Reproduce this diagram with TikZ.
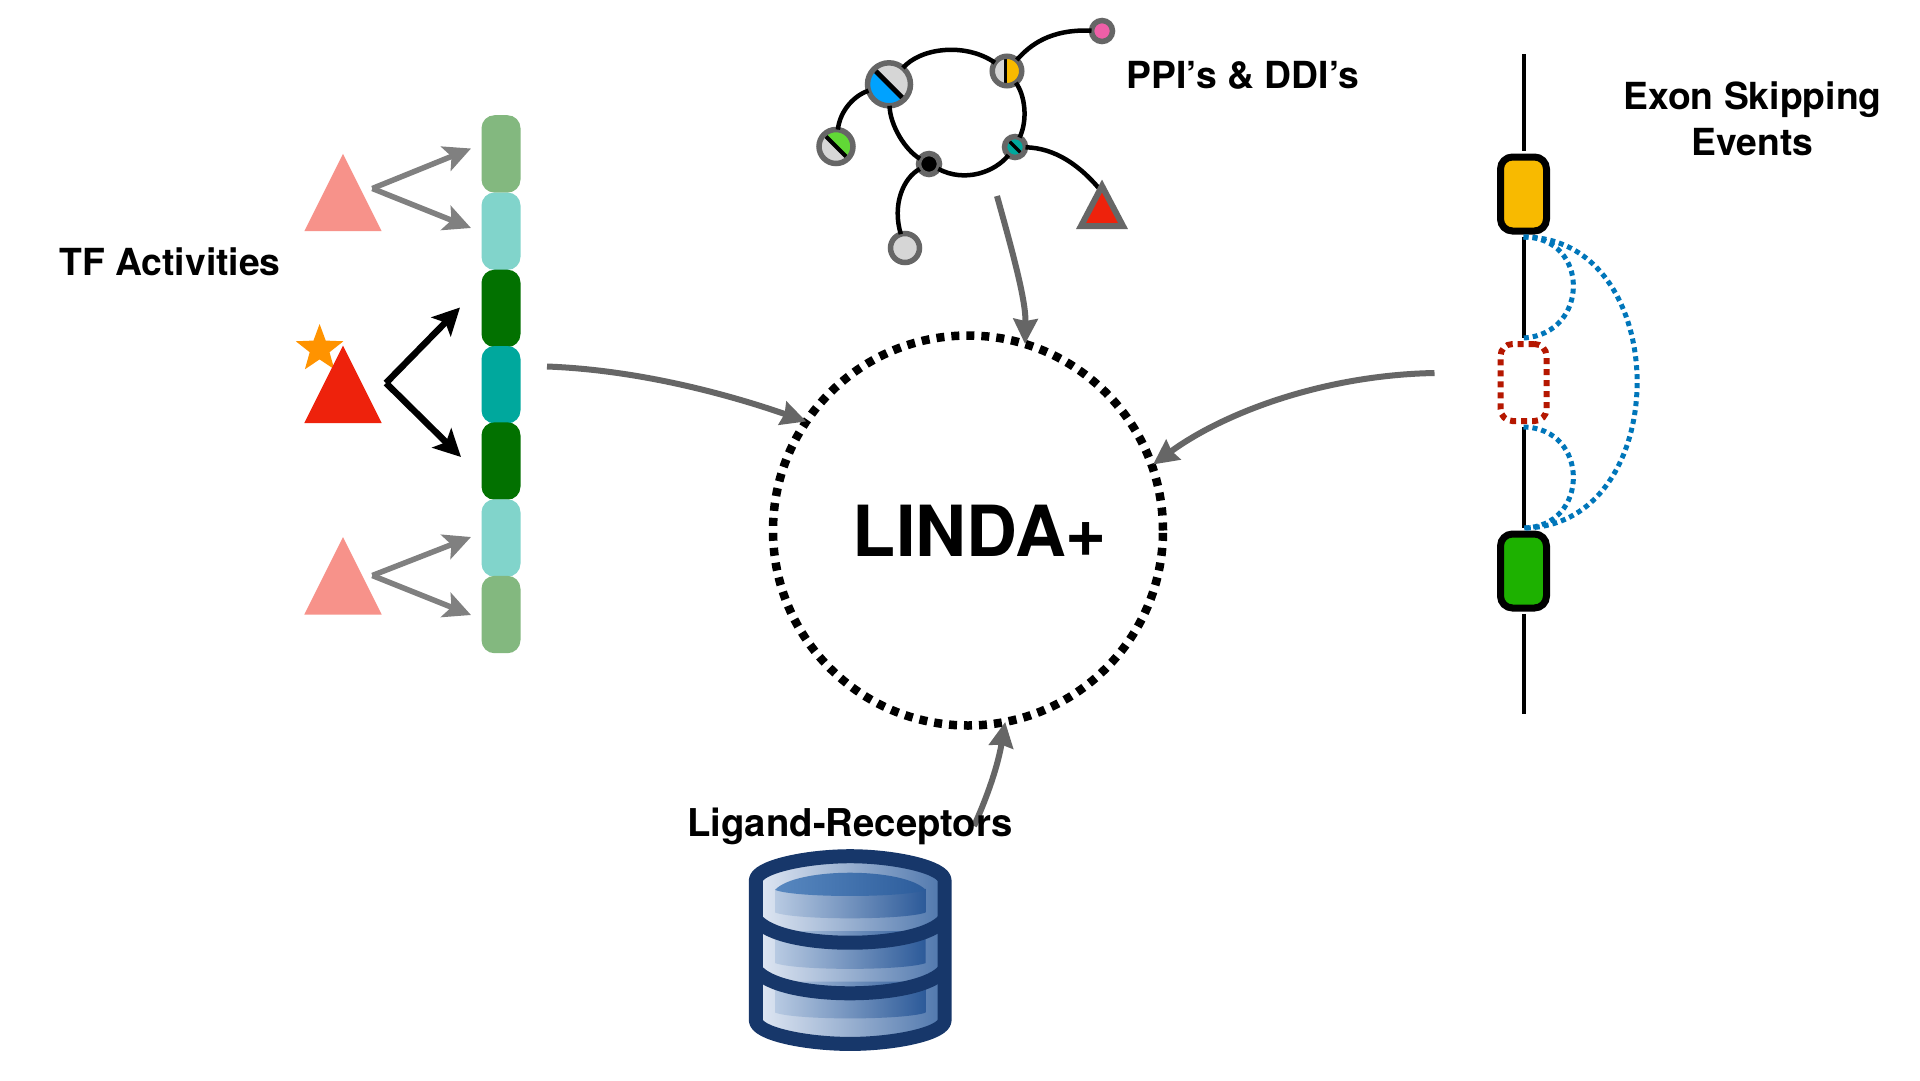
\documentclass[tikz,border=0pt]{standalone}
\usepackage{fontspec}
\setmainfont{TeX Gyre Heros}
\usetikzlibrary{arrows.meta,shapes.geometric}
\definecolor{lgreen}{HTML}{83B87F}
\definecolor{lteal}{HTML}{81D4CB}
\definecolor{dgreen}{HTML}{027100}
\definecolor{mteal}{HTML}{00A89D}
\definecolor{salmon}{HTML}{F7928A}
\definecolor{tfred}{HTML}{EE220C}
\definecolor{starorange}{HTML}{FF9300}
\definecolor{pgrey}{HTML}{666666}
\definecolor{cgrey}{HTML}{D6D6D6}
\definecolor{arrowgrey}{HTML}{808080}
\definecolor{dbnavy}{HTML}{17376A}
\definecolor{dotblue}{HTML}{0076BA}
\definecolor{dotred}{HTML}{B51700}
\definecolor{cblue}{HTML}{00A2FF}
\definecolor{cyellow}{HTML}{F8BA00}
\definecolor{cpink}{HTML}{EF5FA7}
\definecolor{clime}{HTML}{61D836}
\definecolor{cgreen}{HTML}{1DB100}
\definecolor{dbl}{HTML}{E2E9F4}
\definecolor{dbr}{HTML}{4E76AC}
\definecolor{dbil}{HTML}{B8CAE2}
\definecolor{dbir}{HTML}{2C5A99}
\definecolor{dbtl}{HTML}{5888C0}
\definecolor{dbtr}{HTML}{2C5C9B}
\tikzset{
  x=1pt,y=-1pt,
  label text/.style={font=\fontsize{37.3}{46}\selectfont\bfseries,align=center,inner sep=0,outer sep=0},
  barseg/.style={rectangle,rounded corners=13pt,minimum width=39pt,minimum height=77.4pt,inner sep=0,outer sep=0},
  greyarrow/.style={draw=arrowgrey,line width=5.5pt,-{Stealth[length=27pt,width=26pt,inset=6pt]}},
  blackarrow/.style={draw=black,line width=6.5pt,-{Stealth[length=27pt,width=27pt,inset=6pt]}},
  mainarrow/.style={draw=pgrey,line width=6pt,-{Stealth[length=25pt,width=24pt,inset=2pt]}},
  ppinode/.style={circle,draw=pgrey,line width=5.5pt,inner sep=0,outer sep=0},
  ppilink/.style={draw=black,line width=4.5pt},
  exonbox/.style={rectangle,rounded corners=12pt,minimum width=46pt,minimum height=74pt,inner sep=0,outer sep=6pt,draw=black,line width=7pt},
  exonline/.style={draw=black,line width=4pt},
  dotarc/.style={draw=dotblue,line width=5pt,dash pattern=on 5pt off 4pt},
  dbinner/.style={left color=dbil,right color=dbir},
}
\begin{document}
\begin{tikzpicture}
\useasboundingbox (0,0) rectangle (1920,1080);
\fill[white] (0,0) rectangle (1920,1080);

% ---- TF bars
\node[barseg,fill=lgreen] (b1) at (501,153.9) {};
\node[barseg,fill=lteal] (b2) at (501,231.2) {};
\node[barseg,fill=dgreen] (b3) at (501,308.4) {};
\node[barseg,fill=mteal] (b4) at (501,384.7) {};
\node[barseg,fill=dgreen] (b5) at (501,461) {};
\node[barseg,fill=lteal] (b6) at (501,538) {};
\node[barseg,fill=lgreen] (b7) at (501,614.5) {};

% ---- TF triangles
\fill[salmon] (343,153.9) -- (381.7,231.2) -- (304.3,231.2) -- cycle;
\node[star,star points=5,star point ratio=2.4,fill=starorange,minimum size=50pt,inner sep=0,outer sep=0] (st) at (319.6,349) {};
\fill[tfred] (343,345.5) -- (381.7,423) -- (304.3,423) -- cycle;
\fill[salmon] (343,537) -- (381.7,614.5) -- (304.3,614.5) -- cycle;

% ---- TF arrows
\coordinate (g1) at (372.3,188.5);
\coordinate (g1a) at (471,148.5);
\coordinate (g1b) at (471,228);
\coordinate (g2) at (372.3,575.5);
\coordinate (g2a) at (471,537);
\coordinate (g2b) at (471,615);
\coordinate (k) at (386,383);
\coordinate (ka) at (460,307.5);
\coordinate (kb) at (461,457);
\draw[greyarrow] (g1) -- (g1a);
\draw[greyarrow] (g1) -- (g1b);
\draw[greyarrow] (g2) -- (g2a);
\draw[greyarrow] (g2) -- (g2b);
\draw[blackarrow] (k) -- (ka);
\draw[blackarrow] (k) -- (kb);

% ---- Central circle
\node[circle,draw=black,line width=8.5pt,dash pattern=on 8pt off 7pt,minimum size=390pt,inner sep=0,outer sep=0] (main) at (968,530.5) {};
\node[inner sep=0,outer sep=0,font=\fontsize{70.5}{70}\selectfont\bfseries] (linda) at (980,530.5) {LINDA+};

% ---- PPI network
\coordinate (ppistart) at (997,196);
\draw[mainarrow] (ppistart) .. controls (1012,250) and (1026,300) .. (main.73);

\node[ppinode,minimum size=43pt,fill=cgrey,path picture={
  \fill[cblue] (path picture bounding box.north west) -- (path picture bounding box.south west) -- (path picture bounding box.south east) -- cycle;
  \draw[black,line width=5pt] (path picture bounding box.north west) -- (path picture bounding box.south east);}] (big) at (889,84.3) {};
\node[ppinode,minimum size=29.5pt,fill=cgrey,path picture={
  \fill[cyellow] (path picture bounding box.north) -- (path picture bounding box.north east) -- (path picture bounding box.south east) -- (path picture bounding box.south) -- cycle;
  \draw[black,line width=3.5pt] ([xshift=-1.5pt]path picture bounding box.north) -- ([xshift=-1.5pt]path picture bounding box.south);}] (yel) at (1007,71) {};
\node[ppinode,minimum size=21pt,fill=cpink] (pink) at (1102,31) {};
\node[ppinode,minimum size=34pt,fill=cgrey,path picture={
  \fill[clime] (path picture bounding box.north west) -- (path picture bounding box.north east) -- (path picture bounding box.south east) -- cycle;
  \draw[black,line width=4pt] (path picture bounding box.north west) -- (path picture bounding box.south east);}] (grn) at (836,146.5) {};
\node[ppinode,minimum size=21pt,fill=black] (blk) at (929,164) {};
\node[ppinode,minimum size=21pt,fill=mteal,path picture={
  \draw[black,line width=3.5pt] (path picture bounding box.north west) -- (path picture bounding box.south east);}] (tea) at (1015,147) {};
\node[ppinode,minimum size=29pt,fill=cgrey] (gry) at (905,248) {};
\coordinate (tri) at (1102,192);

\draw[ppilink] (big) .. controls (920,48) and (965,42) .. (yel);
\draw[ppilink] (yel) .. controls (1030,45) and (1050,29) .. (pink);
\draw[ppilink] (yel) .. controls (1025,95) and (1028,120) .. (tea);
\draw[ppilink] (tea) .. controls (995,172) and (965,183) .. (blk);
\draw[ppilink] (blk) .. controls (905,150) and (890,125) .. (big);
\draw[ppilink] (big) .. controls (855,95) and (840,110) .. (grn);
\draw[ppilink] (blk) .. controls (903,178) and (892,205) .. (gry);
\draw[ppilink] (tea) .. controls (1055,148) and (1080,165) .. (tri);
\draw[draw=pgrey,fill=tfred,line width=6pt,line join=miter] (1102,186) -- (1123,226) -- (1081,226) -- cycle;
\node[label text] (ppilabel) at (1243,75) {PPI’s \& DDI’s};

% ---- Exon panel
\node[exonbox,fill=cyellow] (ey) at (1523.5,194) {};
\node[exonbox,draw=dotred,line width=6pt,minimum height=77pt,dash pattern=on 6pt off 5pt,fill=white] (er) at (1523.5,382.5) {};
\node[exonbox,fill=cgreen] (eg) at (1523.5,571) {};
\coordinate (etop) at (1523.5,54);
\coordinate (ebot) at (1523.5,714);
\draw[exonline] (etop) -- (ey);
\draw[exonline] (ey) -- (er);
\draw[exonline] (er) -- (eg);
\draw[exonline] (eg) -- (ebot);
\draw[dotarc] (ey.south) .. controls (1590,237) and (1590,334) .. (er.north);
\draw[dotarc] (er.south) .. controls (1590,428) and (1590,527) .. (eg.north);
\draw[dotarc] (ey.south) .. controls (1675,237) and (1675,527) .. (eg.north);
\node[label text] (exonlabel) at (1752.5,119) {Exon Skipping\\Events};

% ---- Connectors into main
\coordinate (tfstart) at (547,366.5);
\coordinate (exstart) at (1434.5,373);
\coordinate (extip) at (1153,464.5);
\coordinate (lrstart) at (974,826);
\draw[mainarrow] (tfstart) .. controls (640,370) and (730,395) .. (main.146.5);
\draw[mainarrow] (exstart) .. controls (1325,375) and (1225,412) .. (extip);
\draw[mainarrow] (lrstart) .. controls (988,795) and (998,765) .. (main.281);

% ---- Labels
\node[label text] (tflabel) at (170,262) {TF Activities};
\node[label text,font=\fontsize{38.3}{46}\selectfont\bfseries] (lrlabel) at (850,826) {Ligand-Receptors};

% ---- Database
\begin{scope}[shift={(678,776)},x=0.337pt,y=-0.337pt]
  \shade[left color=dbl,right color=dbr]
    (231,310) .. controls (231,270) and (380,238) .. (511,238) .. controls (640,238) and (791,270) .. (791,310)
    -- (791,725) .. controls (791,765) and (640,795) .. (511,795) .. controls (380,795) and (231,765) .. (231,725) -- cycle;
  \shade[dbinner]
    (288,335) -- (288,405) .. controls (350,428) and (670,428) .. (735,405) -- (735,335) -- cycle;
  \shade[dbinner]
    (288,460) -- (288,555) .. controls (350,578) and (670,578) .. (735,555) -- (735,460) -- cycle;
  \shade[dbinner]
    (288,610) -- (288,702) .. controls (350,725) and (670,725) .. (735,702) -- (735,610) -- cycle;
  \shade[left color=dbtl,right color=dbtr]
    (288,338) .. controls (350,270) and (670,270) .. (735,338) .. controls (670,362) and (350,362) .. (288,338) -- cycle;
  \draw[dbnavy,line width=14pt] (231,425) .. controls (300,518) and (720,518) .. (791,425);
  \draw[dbnavy,line width=14pt] (231,575) .. controls (300,668) and (720,668) .. (791,575);
  \draw[dbnavy,line width=14pt,line join=round]
    (231,310) .. controls (231,270) and (380,238) .. (511,238) .. controls (640,238) and (791,270) .. (791,310)
    -- (791,725) .. controls (791,765) and (640,795) .. (511,795) .. controls (380,795) and (231,765) .. (231,725) -- cycle;
\end{scope}
\end{tikzpicture}
\end{document}
